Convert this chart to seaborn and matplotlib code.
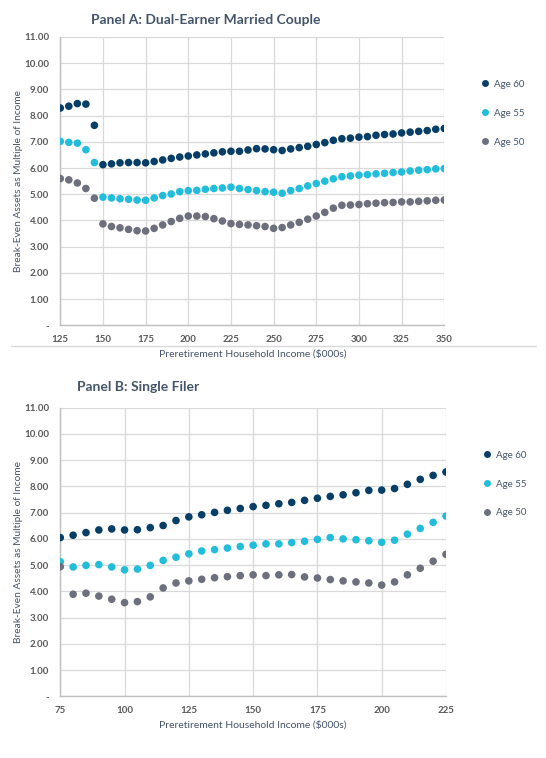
import numpy as np
import pandas as pd
import matplotlib
matplotlib.use("Agg")
import matplotlib.pyplot as plt
import seaborn as sns
from matplotlib.lines import Line2D

# === Data ===
income_a = list(range(125, 351, 5))
age60_a = [8.29, 8.36, 8.46, 8.44, 7.63, 6.13, 6.16, 6.20, 6.21, 6.21,
           6.20, 6.25, 6.31, 6.37, 6.42, 6.46, 6.50, 6.54, 6.58, 6.62,
           6.64, 6.64, 6.69, 6.74, 6.73, 6.70, 6.67, 6.73, 6.78, 6.83,
           6.90, 6.97, 7.06, 7.12, 7.14, 7.18, 7.20, 7.25, 7.28, 7.30,
           7.34, 7.37, 7.40, 7.43, 7.48, 7.51]
age55_a = [7.02, 6.98, 6.95, 6.70, 6.21, 4.89, 4.86, 4.83, 4.81, 4.78,
           4.77, 4.86, 4.95, 5.01, 5.10, 5.14, 5.15, 5.19, 5.22, 5.24,
           5.27, 5.22, 5.18, 5.14, 5.10, 5.08, 5.04, 5.14, 5.22, 5.32,
           5.41, 5.50, 5.59, 5.67, 5.70, 5.73, 5.75, 5.78, 5.80, 5.83,
           5.85, 5.89, 5.92, 5.94, 5.97, 5.98]
age50_a = [5.60, 5.55, 5.43, 5.22, 4.85, 3.87, 3.77, 3.72, 3.66, 3.61,
           3.60, 3.70, 3.83, 3.96, 4.08, 4.17, 4.17, 4.15, 4.07, 3.98,
           3.88, 3.85, 3.83, 3.80, 3.77, 3.70, 3.73, 3.83, 3.93, 4.05,
           4.17, 4.31, 4.47, 4.58, 4.59, 4.61, 4.64, 4.66, 4.68, 4.69,
           4.71, 4.71, 4.73, 4.75, 4.77, 4.78]

income_b = list(range(75, 226, 5))
age60_b = [6.05, 6.14, 6.24, 6.34, 6.38, 6.34, 6.35, 6.43, 6.51, 6.70,
           6.84, 6.92, 7.01, 7.09, 7.16, 7.23, 7.28, 7.34, 7.39, 7.47,
           7.55, 7.62, 7.68, 7.76, 7.85, 7.86, 7.92, 8.08, 8.27, 8.42,
           8.55]
age55_b = [5.13, 4.93, 4.99, 5.02, 4.93, 4.82, 4.85, 4.99, 5.18, 5.30,
           5.43, 5.54, 5.59, 5.65, 5.71, 5.76, 5.81, 5.81, 5.86, 5.91,
           5.98, 6.05, 6.00, 5.97, 5.93, 5.87, 5.95, 6.18, 6.40, 6.63,
           6.87]
age50_b = [4.94, 3.89, 3.93, 3.82, 3.70, 3.57, 3.61, 3.79, 4.13, 4.32,
           4.40, 4.46, 4.52, 4.56, 4.60, 4.63, 4.60, 4.63, 4.64, 4.55,
           4.51, 4.45, 4.40, 4.36, 4.32, 4.24, 4.36, 4.63, 4.88, 5.15,
           5.41]

series_names = ["Age 60", "Age 55", "Age 50"]
y_ticks = [0, 1, 2, 3, 4, 5, 6, 7, 8, 9, 10, 11]
y_tick_labels = ["-"] + [f"{v:.2f}" for v in y_ticks[1:]]

palette = {"Age 60": "#073e68", "Age 55": "#21bddb", "Age 50": "#6c6f7c"}
text_col = "#44546a"
tick_col = "#595959"

sns.set_theme(style="white")
plt.rcParams['font.family'] = ['Lato', 'DejaVu Sans']


def to_long(x, s60, s55, s50):
    frames = []
    for name, vals in zip(series_names, [s60, s55, s50]):
        frames.append(pd.DataFrame({"income": x, "value": vals, "series": name}))
    return pd.concat(frames, ignore_index=True)


def draw_panel(ax, df, xticks, title, title_x, title_y):
    sns.scatterplot(data=df, x="income", y="value", hue="series",
                    hue_order=series_names, palette=palette, s=30,
                    edgecolor="none", ax=ax, legend=False, zorder=3)
    ax.set_xlim(xticks[0], xticks[-1])
    ax.set_ylim(0, 11)
    ax.set_xticks(xticks)
    ax.set_yticks(y_ticks)
    ax.set_yticklabels(y_tick_labels)
    ax.grid(True, color="#d9d9d9", linewidth=0.9)
    ax.set_axisbelow(True)
    for side in ["top", "right"]:
        ax.spines[side].set_visible(False)
    for side in ["left", "bottom"]:
        ax.spines[side].set_color("#bfbfbf")
        ax.spines[side].set_linewidth(1.0)
    ax.tick_params(axis="both", length=0, labelsize=7, colors=tick_col)
    ax.tick_params(axis="x", pad=7)
    ax.tick_params(axis="y", pad=8)
    for lbl in ax.get_xticklabels() + ax.get_yticklabels():
        lbl.set_fontweight("bold")
    ax.set_xlabel("Preretirement Household Income ($000s)", fontsize=7.5,
                  color=text_col, labelpad=4)
    ax.set_ylabel("Break-Even Assets as Multiple of Income", fontsize=7.3,
                  color=text_col, labelpad=0.5)
    ax.text(title_x, title_y, title, transform=ax.figure.transFigure,
            fontsize=10, fontweight="bold", color=text_col, va="center")
    handles = [Line2D([0], [0], marker="o", linestyle="none", markersize=5,
                      markerfacecolor=palette[n], markeredgecolor="none")
               for n in series_names]
    ax.legend(handles, series_names, loc="upper left",
              bbox_to_anchor=(1.07, 0.865), frameon=False, fontsize=7,
              labelcolor=text_col, handletextpad=0.0, labelspacing=2.05,
              borderaxespad=0)


fig = plt.figure(figsize=(5.46, 7.58), dpi=100)
ax_a = fig.add_axes([0.1104, 0.5708, 0.7033, 0.3804])
ax_b = fig.add_axes([0.1104, 0.0814, 0.7064, 0.3807])

draw_panel(ax_a, to_long(income_a, age60_a, age55_a, age50_a),
           list(range(125, 351, 25)), "Panel A: Dual-Earner Married Couple",
           91 / 546, 1 - 20 / 758)
draw_panel(ax_b, to_long(income_b, age60_b, age55_b, age50_b),
           list(range(75, 226, 25)), "Panel B: Single Filer",
           77 / 546, 1 - 387 / 758)

# separator line under panel A
fig.add_artist(Line2D([11 / 546, 536 / 546], [1 - 346 / 758, 1 - 346 / 758],
                      color="#d9d9d9", linewidth=1.0))

fig.savefig("out.png", dpi=100)
